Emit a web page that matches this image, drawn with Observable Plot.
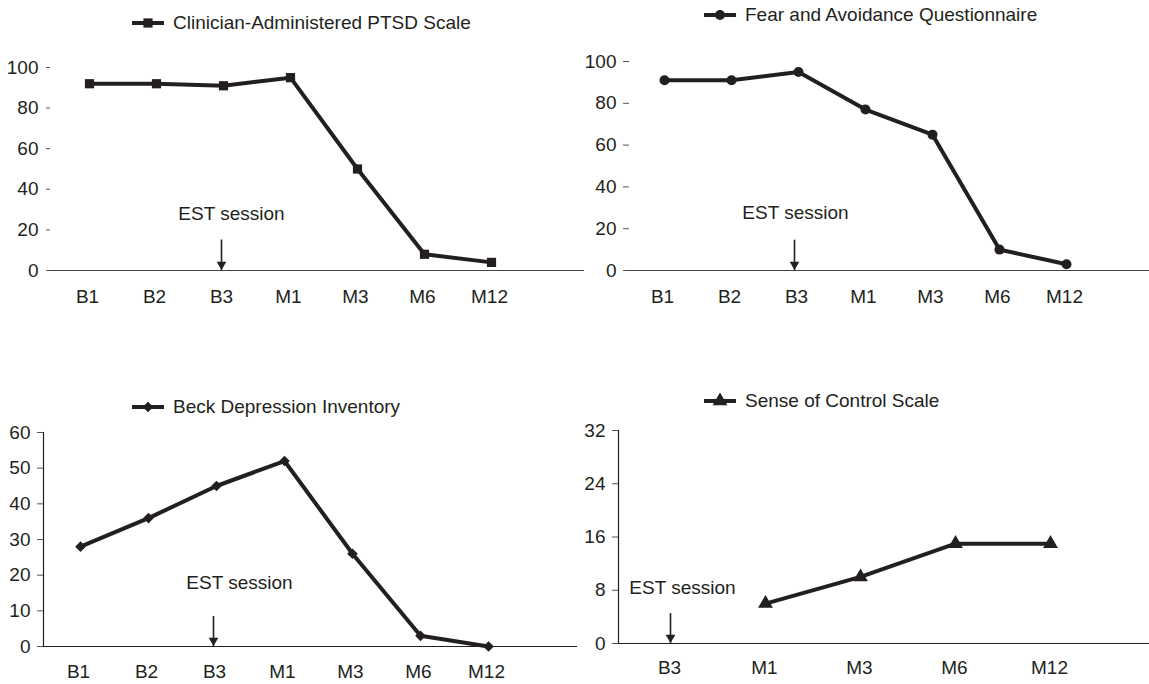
<!DOCTYPE html>
<html>
<head>
<meta charset="utf-8">
<script src="https://cdn.jsdelivr.net/npm/d3@7"></script>
<script src="https://cdn.jsdelivr.net/npm/@observablehq/plot@0.6"></script>
<style>
  html, body { margin: 0; padding: 0; background: #fff; }
  #chart { position: relative; width: 1149px; height: 684px; overflow: hidden; background: #fff;
           font-family: 'Liberation Sans', Arial, Helvetica, sans-serif; color: #231f20; }
  .panel { position: absolute; }
  .legend { position: absolute; display: flex; align-items: center; height: 22px; font-size: 19px; white-space: nowrap; }
  .legend svg { display: block; margin-right: 9px; }
</style>
</head>
<body>
<div id="chart"></div>
<script>
// Assessment waves: baseline (B) and follow-up months (M)
const waves = ["B1", "B2", "B3", "M1", "M3", "M6", "M12"];
const controlWaves = ["B3", "M1", "M3", "M6", "M12"];

// Scores per wave
const capsScores = [92, 92, 91, 95, 50, 8, 4];
const faqScores = [91, 91, 95, 77, 65, 10, 3];
const bdiScores = [28, 36, 45, 52, 26, 3, 0];
const controlScores = [null, 6, 10, 15, 15];

// Axis ticks
const capsTicks = [0, 20, 40, 60, 80, 100];
const faqTicks = [0, 20, 40, 60, 80, 100];
const bdiTicks = [0, 10, 20, 30, 40, 50, 60];
const controlTicks = [0, 8, 16, 24, 32];

// Series names
const capsName = "Clinician-Administered PTSD Scale";
const faqName = "Fear and Avoidance Questionnaire";
const bdiName = "Beck Depression Inventory";
const controlName = "Sense of Control Scale";
const sessionLabel = "EST session";
const sessionWave = "B3";

const INK = "#231f20";
const FONT = "'Liberation Sans', Arial, Helvetica, sans-serif";
const root = document.getElementById("chart");

function legend(cfg) {
  const div = document.createElement("div");
  div.className = "legend";
  div.style.left = cfg.left + "px";
  div.style.top = (cfg.cy - 11) + "px";
  const svg = d3.create("svg").attr("width", 32).attr("height", 22);
  svg.append("line").attr("x1", 0).attr("x2", 32).attr("y1", 11).attr("y2", 11)
    .attr("stroke", INK).attr("stroke-width", 4);
  const sym = {square: d3.symbolSquare, circle: d3.symbolCircle, diamond2: d3.symbolDiamond2, triangle: d3.symbolTriangle}[cfg.symbol];
  svg.append("path").attr("transform", "translate(16,11)")
    .attr("d", d3.symbol(sym, Math.PI * cfg.r * cfg.r)()).attr("fill", INK);
  div.appendChild(svg.node());
  const span = document.createElement("span");
  span.textContent = cfg.name;
  div.appendChild(span);
  root.appendChild(div);
}

function panel(cfg) {
  const rows = cfg.waves
    .map((w, i) => ({wave: w, value: cfg.values[i]}))
    .filter(d => d.value != null);
  const est = [{wave: sessionWave, labelY: cfg.est.labelY, arrowTop: cfg.est.arrowTop}];
  const marks = [
    Plot.ruleY([0], {stroke: cfg.baseStroke, strokeWidth: 1.2}),
    Plot.axisY({ticks: cfg.ticks, tickSize: cfg.tickSize, tickPadding: cfg.tickPadding, label: null, stroke: "#555"}),
    Plot.axisX({tickSize: 0, tickPadding: cfg.xPad, dx: cfg.xdx, label: null}),
    Plot.line(rows, {x: "wave", y: "value", stroke: INK, strokeWidth: 4, strokeLinejoin: "miter"}),
    Plot.dot(rows, {x: "wave", y: "value", symbol: cfg.symbol, r: cfg.r, fill: INK, stroke: "none"}),
    Plot.text(est, {x: "wave", y: "labelY", text: () => sessionLabel, dx: cfg.est.textDx, fill: INK}),
    Plot.ruleX(est, {x: "wave", y1: "arrowTop", y2: 0, dx: cfg.est.arrowDx, stroke: INK, strokeWidth: 1.6}),
    Plot.dot(est, {x: "wave", y: 0, symbol: "triangle", rotate: 180, r: 3.6, dx: cfg.est.arrowDx, dy: -6, fill: INK, stroke: "none"})
  ];
  if (cfg.yLine) marks.push(Plot.frame({anchor: "left", stroke: INK, strokeWidth: 1.2}));
  const svg = Plot.plot({
    width: cfg.width,
    height: cfg.height,
    marginTop: cfg.marginTop,
    marginBottom: cfg.marginBottom,
    marginLeft: cfg.marginLeft,
    marginRight: cfg.marginRight,
    x: {type: "point", domain: cfg.waves, range: cfg.xRange, padding: 0, align: 0.5},
    y: {domain: cfg.yDomain},
    style: {fontSize: "19px", fontFamily: FONT, color: INK, background: "transparent", overflow: "visible"},
    marks
  });
  svg.classList.add("panel");
  svg.style.left = cfg.left + "px";
  svg.style.top = cfg.top + "px";
  root.appendChild(svg);
  legend({...cfg.legend, symbol: cfg.symbol, r: cfg.r, name: cfg.name});
}

// Top left: CAPS
panel({
  name: capsName, waves, values: capsScores, ticks: capsTicks, yDomain: [0, 100],
  left: 0, top: 0, width: 590, height: 320,
  marginTop: 67, marginBottom: 50, marginLeft: 50, marginRight: 6,
  xRange: [88, 492], tickSize: 4, tickPadding: 8, xPad: 19, xdx: -2,
  symbol: "square", r: 5.2, baseStroke: "#444", yLine: false,
  est: {labelY: 28, arrowTop: 15, textDx: 8, arrowDx: -2},
  legend: {left: 132, cy: 23}
});

// Top right: FAQ
panel({
  name: faqName, waves, values: faqScores, ticks: faqTicks, yDomain: [0, 100],
  left: 574, top: 0, width: 575, height: 320,
  marginTop: 61, marginBottom: 50, marginLeft: 55, marginRight: 0,
  xRange: [88, 493], tickSize: 6, tickPadding: 7, xPad: 19, xdx: -2,
  symbol: "circle", r: 5, baseStroke: "#444", yLine: false,
  est: {labelY: 27.5, arrowTop: 14.5, textDx: -3, arrowDx: -4},
  legend: {left: 704, cy: 15}
});

// Bottom left: BDI
panel({
  name: bdiName, waves, values: bdiScores, ticks: bdiTicks, yDomain: [0, 60],
  left: 0, top: 360, width: 580, height: 324,
  marginTop: 72, marginBottom: 38, marginLeft: 43, marginRight: 3,
  xRange: [77, 490], tickSize: 6, tickPadding: 7, xPad: 18, xdx: -2,
  symbol: "diamond2", r: 4.8, baseStroke: INK, yLine: true,
  est: {labelY: 17.7, arrowTop: 8.4, textDx: 23, arrowDx: -3},
  legend: {left: 132, cy: 407}
});

// Bottom right: Sense of Control
panel({
  name: controlName, waves: controlWaves, values: controlScores, ticks: controlTicks, yDomain: [0, 32],
  left: 574, top: 360, width: 575, height: 324,
  marginTop: 70, marginBottom: 41, marginLeft: 44, marginRight: 0,
  xRange: [94, 477], tickSize: 6, tickPadding: 7, xPad: 17, xdx: -1,
  symbol: "triangle", r: 5.5, baseStroke: INK, yLine: true,
  est: {labelY: 8.3, arrowTop: 4.5, textDx: 12, arrowDx: 0},
  legend: {left: 704, cy: 401}
});
</script>
</body>
</html>
